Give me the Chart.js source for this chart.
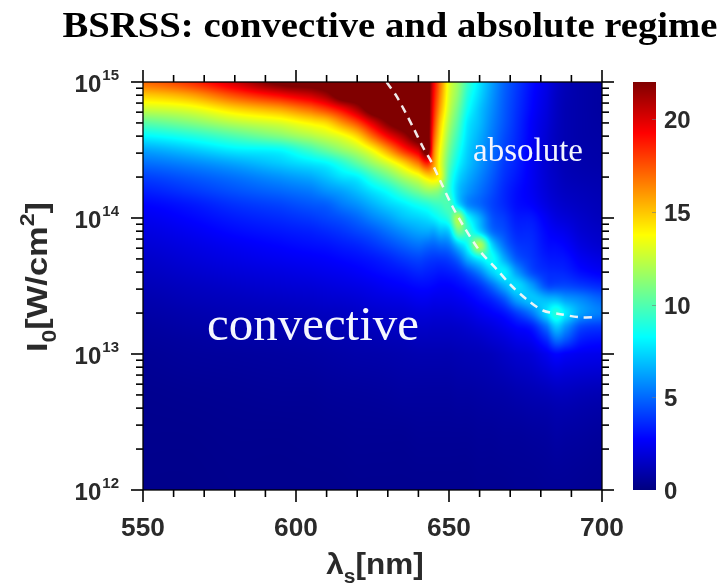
<!DOCTYPE html>
<html>
<head>
<meta charset="utf-8">
<title>BSRSS: convective and absolute regime</title>
<script src="https://cdn.jsdelivr.net/npm/chart.js@4.4.1/dist/chart.umd.min.js"></script>
<style>
  html, body { margin: 0; padding: 0; background: #fff; }
  #wrap { width: 723px; height: 587px; }
</style>
</head>
<body>
<div id="wrap"><canvas id="bsrssChart" width="723" height="587"></canvas></div>
<script>
// Wavelength columns of the gain map [nm]
const wavelengths = [550, 565, 580, 595, 605, 610, 615, 620, 625, 630, 635, 640, 643, 645, 647, 650, 653, 656, 660, 664, 668, 672, 677, 682, 685, 688, 693, 700];
// Intensity rows as log10(I0 [W/cm2]), top to bottom
const intensityExp = [15.0, 14.9, 14.8, 14.7, 14.6, 14.5, 14.4, 14.3, 14.2, 14.1, 14.0, 13.9, 13.8, 13.7, 13.6, 13.5, 13.4, 13.3, 13.2, 13.1, 13.0, 12.7, 12.4, 12.0];
// Gain, one list per wavelength (rows in intensityExp order)
const gain = [
  [17.0, 14.8, 12.6, 10.2, 8.1, 6.3, 5.1, 4.1, 3.4, 2.8, 2.4, 2.1, 1.85, 1.6, 1.4, 1.2, 1.0, 0.85, 0.7, 0.6, 0.5, 0.35, 0.3, 0.25],
  [18.2, 15.6, 13.1, 11.0, 8.8, 7.0, 5.6, 4.6, 3.9, 3.2, 2.8, 2.45, 2.15, 1.9, 1.65, 1.4, 1.2, 1.0, 0.85, 0.7, 0.6, 0.4, 0.3, 0.25],
  [20.3, 17.6, 14.6, 12.2, 9.9, 7.9, 6.3, 5.2, 4.5, 3.8, 3.3, 2.9, 2.5, 2.2, 1.9, 1.6, 1.35, 1.15, 0.95, 0.8, 0.65, 0.45, 0.35, 0.3],
  [22.5, 19.2, 15.7, 13.0, 11.0, 8.25, 7.1, 5.9, 5.0, 4.2, 3.65, 3.2, 2.8, 2.45, 2.1, 1.8, 1.5, 1.25, 1.05, 0.85, 0.7, 0.5, 0.35, 0.3],
  [22.8, 20.3, 17.0, 14.0, 12.0, 9.6, 7.7, 6.4, 5.4, 4.6, 3.95, 3.4, 3.0, 2.6, 2.25, 1.9, 1.6, 1.35, 1.1, 0.9, 0.75, 0.5, 0.38, 0.3],
  [23.0, 21.3, 18.0, 14.6, 12.6, 10.5, 8.1, 6.95, 5.9, 4.8, 4.2, 3.6, 3.1, 2.7, 2.35, 2.0, 1.7, 1.4, 1.15, 0.95, 0.8, 0.55, 0.4, 0.3],
  [23.0, 23.0, 19.3, 16.1, 13.3, 11.4, 9.0, 7.6, 6.3, 5.4, 4.5, 3.85, 3.3, 2.85, 2.45, 2.1, 1.75, 1.45, 1.2, 1.0, 0.85, 0.58, 0.42, 0.32],
  [23.0, 23.0, 21.0, 17.7, 14.6, 12.3, 10.2, 8.0, 6.9, 5.9, 4.95, 4.2, 3.5, 3.0, 2.6, 2.2, 1.85, 1.55, 1.3, 1.05, 0.9, 0.6, 0.45, 0.35],
  [23.0, 23.0, 23.0, 20.0, 17.0, 13.75, 11.5, 9.3, 7.7, 6.6, 5.6, 4.6, 3.85, 3.2, 2.8, 2.35, 2.0, 1.65, 1.35, 1.1, 0.92, 0.62, 0.45, 0.35],
  [23.0, 23.0, 23.0, 22.0, 19.3, 15.9, 12.8, 10.5, 8.5, 7.3, 6.2, 5.2, 4.3, 3.5, 3.0, 2.55, 2.1, 1.75, 1.45, 1.15, 0.95, 0.65, 0.45, 0.35],
  [23.0, 23.0, 23.0, 23.0, 21.1, 18.3, 14.5, 11.9, 9.7, 7.9, 6.9, 5.8, 4.8, 3.9, 3.2, 2.7, 2.2, 1.8, 1.5, 1.2, 1.0, 0.7, 0.45, 0.35],
  [23.0, 23.0, 23.0, 23.0, 23.0, 20.3, 16.6, 13.1, 10.8, 8.6, 7.3, 6.3, 5.2, 4.2, 3.5, 2.9, 2.4, 1.95, 1.6, 1.3, 1.05, 0.7, 0.5, 0.35],
  [23.0, 23.0, 23.0, 23.0, 23.0, 23.0, 18.5, 14.3, 11.5, 9.0, 7.6, 6.4, 5.0, 4.0, 3.4, 2.9, 2.4, 1.95, 1.6, 1.3, 1.05, 0.7, 0.5, 0.35],
  [19.5, 19.2, 18.8, 18.3, 17.6, 16.8, 16.0, 14.5, 11.5, 9.4, 8.0, 6.3, 4.9, 3.9, 3.3, 2.8, 2.3, 1.9, 1.55, 1.3, 1.05, 0.7, 0.5, 0.35],
  [16.8, 16.4, 15.8, 15.0, 14.4, 13.8, 13.4, 13.5, 11.0, 9.6, 8.5, 6.8, 5.1, 3.9, 3.2, 2.7, 2.3, 1.9, 1.55, 1.3, 1.05, 0.7, 0.5, 0.35],
  [13.2, 13.0, 12.6, 12.0, 11.4, 10.8, 10.2, 9.6, 9.2, 9.8, 9.3, 7.2, 5.4, 4.1, 3.3, 2.7, 2.3, 1.9, 1.55, 1.3, 1.05, 0.7, 0.5, 0.35],
  [11.5, 11.2, 10.6, 10.0, 9.4, 8.8, 8.2, 7.5, 7.0, 7.6, 12.0, 10.5, 7.0, 4.9, 3.6, 2.9, 2.4, 2.0, 1.6, 1.35, 1.1, 0.75, 0.5, 0.35],
  [9.5, 9.0, 8.5, 7.9, 7.6, 7.3, 7.0, 6.5, 6.0, 5.8, 8.5, 9.5, 8.5, 6.5, 4.3, 3.2, 2.6, 2.1, 1.7, 1.4, 1.15, 0.75, 0.5, 0.35],
  [7.7, 7.4, 7.0, 6.8, 6.5, 6.2, 6.0, 5.6, 5.2, 5.0, 6.5, 7.5, 12.0, 8.0, 5.5, 3.8, 3.0, 2.4, 1.9, 1.5, 1.2, 0.8, 0.55, 0.4],
  [6.2, 6.0, 5.8, 5.6, 5.4, 5.2, 5.0, 4.7, 4.4, 4.2, 4.6, 5.2, 7.5, 8.5, 7.2, 5.0, 3.5, 2.7, 2.1, 1.7, 1.3, 0.85, 0.55, 0.4],
  [4.9, 4.8, 4.7, 4.6, 4.4, 4.2, 4.0, 3.8, 3.6, 3.6, 4.0, 4.4, 5.2, 6.5, 8.0, 6.5, 4.5, 3.1, 2.4, 1.9, 1.5, 0.9, 0.6, 0.4],
  [4.0, 3.9, 3.8, 3.7, 3.6, 3.5, 3.4, 3.2, 3.0, 3.0, 3.3, 3.6, 4.0, 4.7, 6.2, 7.5, 6.2, 4.0, 2.8, 2.2, 1.7, 1.0, 0.6, 0.45],
  [3.0, 2.9, 2.8, 2.65, 2.6, 2.5, 2.5, 2.5, 2.5, 2.7, 3.2, 3.5, 3.7, 3.9, 4.4, 6.2, 7.0, 5.3, 3.3, 2.5, 1.9, 1.1, 0.65, 0.45],
  [2.2, 2.1, 2.0, 1.9, 1.8, 1.75, 1.75, 1.8, 1.9, 2.1, 2.5, 2.8, 3.0, 3.3, 3.7, 4.4, 6.8, 7.5, 5.2, 3.6, 2.4, 1.2, 0.7, 0.5],
  [1.6, 1.5, 1.45, 1.4, 1.35, 1.35, 1.4, 1.5, 1.6, 1.8, 2.1, 2.5, 2.9, 3.2, 3.6, 4.3, 6.8, 9.0, 7.0, 5.0, 2.8, 1.3, 0.8, 0.5],
  [1.2, 1.15, 1.1, 1.1, 1.1, 1.1, 1.15, 1.25, 1.4, 1.6, 1.9, 2.3, 2.7, 3.1, 3.5, 4.3, 6.2, 7.8, 6.0, 4.5, 2.6, 1.3, 0.75, 0.5],
  [0.9, 0.9, 0.9, 0.9, 0.9, 0.95, 1.0, 1.1, 1.25, 1.4, 1.6, 1.8, 2.1, 2.5, 3.0, 4.0, 5.7, 6.2, 4.3, 3.3, 2.4, 1.2, 0.7, 0.45],
  [0.7, 0.7, 0.7, 0.75, 0.8, 0.85, 0.9, 1.0, 1.1, 1.2, 1.3, 1.5, 1.7, 2.1, 2.6, 3.6, 4.9, 5.4, 3.9, 3.0, 2.3, 1.1, 0.6, 0.4]
];

// Dashed convective / absolute boundary
const boundaryNm = [629.6, 633, 638.2, 641.5, 644.3, 647, 651, 654.5, 660, 665.7, 670.5, 675.5, 680.7, 687, 693, 698.5];
const boundaryExp = [15.0, 14.89, 14.67, 14.52, 14.41, 14.28, 14.09, 13.95, 13.76, 13.62, 13.5, 13.4, 13.32, 13.29, 13.27, 13.27];

// Axes
const xTicks = [550, 600, 650, 700];
const xMinorStep = 10;
const yTickExp = [12, 13, 14, 15];
const gainTicks = [0, 5, 10, 15, 20];
const gainMax = 22;

const labelFont = '"Liberation Sans", Arial, sans-serif';
const serifFont = '"Liberation Serif", "Times New Roman", serif';
const labelColor = '#2a2a2a';

// jet colour map
function jet(v) {
    const t = Math.min(Math.max(v / gainMax, 0), 1);
    const ch = c => Math.round(255 * Math.min(Math.max(1.5 - Math.abs(4 * t - c), 0), 1));
    return [ch(3), ch(2), ch(1)];
}

// find cell index + fraction in an ascending or descending list
function locate(list, v) {
    const n = list.length;
    for (let i = 0; i < n - 1; i++) {
        const a = list[i], b = list[i + 1];
        if ((v - a) * (v - b) <= 0) return { i: i, f: (v - a) / (b - a) };
    }
    return Math.abs(v - list[0]) < Math.abs(v - list[n - 1]) ? { i: 0, f: 0 } : { i: n - 2, f: 1 };
}

// Catmull-Rom step
function cr(p0, p1, p2, p3, t) {
    return p1 + 0.5 * t * (p2 - p0 + t * (2 * p0 - 5 * p1 + 4 * p2 - p3 + t * (3 * (p1 - p2) + p3 - p0)));
}

function sample(c, r) {
    const nc = wavelengths.length, nr = intensityExp.length;
    const ci = k => Math.min(Math.max(k, 0), nc - 1);
    const ri = k => Math.min(Math.max(k, 0), nr - 1);
    const rowVals = [];
    for (let k = -1; k <= 2; k++) {
        const rr = ri(r.i + k);
        rowVals.push(cr(gain[ci(c.i - 1)][rr], gain[c.i][rr], gain[c.i + 1][rr], gain[ci(c.i + 2)][rr], c.f));
    }
    let v = cr(rowVals[0], rowVals[1], rowVals[2], rowVals[3], r.f);
    const corners = [gain[c.i][r.i], gain[c.i + 1][r.i], gain[c.i][r.i + 1], gain[c.i + 1][r.i + 1]];
    return Math.min(Math.max(v, Math.min(...corners)), Math.max(...corners));
}

// Heat map, drawn under the dashed line
const gainMapPlugin = {
    id: 'gainMap',
    beforeDatasetsDraw(chart) {
        const { ctx, chartArea: a, scales } = chart;
        const w = Math.round(a.right - a.left);
        const h = Math.round(a.bottom - a.top);
        const cols = [], rows = [];
        for (let px = 0; px < w; px++) {
            cols.push(locate(wavelengths, scales.x.getValueForPixel(a.left + px + 0.5)));
        }
        for (let py = 0; py < h; py++) {
            rows.push(locate(intensityExp, Math.log10(scales.y.getValueForPixel(a.top + py + 0.5))));
        }
        const off = document.createElement('canvas');
        off.width = w;
        off.height = h;
        const octx = off.getContext('2d');
        const img = octx.createImageData(w, h);
        for (let py = 0; py < h; py++) {
            for (let px = 0; px < w; px++) {
                const rgb = jet(sample(cols[px], rows[py]));
                const k = (py * w + px) * 4;
                img.data[k] = rgb[0];
                img.data[k + 1] = rgb[1];
                img.data[k + 2] = rgb[2];
                img.data[k + 3] = 255;
            }
        }
        octx.putImageData(img, 0, 0);
        ctx.drawImage(off, a.left, a.top);
    }
};

function drawText(ctx, str, x, y, font, color, align, sx) {
    ctx.save();
    ctx.font = font;
    ctx.fillStyle = color;
    ctx.textAlign = align;
    ctx.textBaseline = 'alphabetic';
    ctx.translate(x, y);
    ctx.scale(sx || 1, 1);
    ctx.fillText(str, 0, 0);
    ctx.restore();
}

// text made of parts with normal / sub / sup offsets, centred on x
function drawRich(ctx, parts, x, y, size, color) {
    const fonts = { n: 'bold ' + size + 'px ' + labelFont, s: 'bold ' + Math.round(size * 0.65) + 'px ' + labelFont };
    let total = 0;
    parts.forEach(p => { ctx.font = p.k === 'n' ? fonts.n : fonts.s; p.w = ctx.measureText(p.t).width; total += p.w; });
    let cx = x - total / 2;
    ctx.fillStyle = color;
    ctx.textAlign = 'left';
    ctx.textBaseline = 'alphabetic';
    parts.forEach(p => {
        ctx.font = p.k === 'n' ? fonts.n : fonts.s;
        const dy = p.k === 'sub' ? size * 0.3 : (p.k === 'sup' ? -size * 0.45 : 0);
        ctx.fillText(p.t, cx, y + dy);
        cx += p.w;
    });
}

const framePlugin = {
    id: 'frame',
    afterDraw(chart) {
        const { ctx, chartArea: a, scales } = chart;
        const x = scales.x, y = scales.y, cb = scales.gain;
        ctx.save();

        // colour bar
        const barL = a.right + 31, barW = 23;
        const barT = Math.round(cb.getPixelForValue(gainMax)), barB = Math.round(cb.getPixelForValue(0));
        for (let py = barT; py < barB; py++) {
            const rgb = jet(cb.getValueForPixel(py + 0.5));
            ctx.fillStyle = 'rgb(' + rgb.join(',') + ')';
            ctx.fillRect(barL, py, barW, 1);
        }
        ctx.strokeStyle = 'rgba(120,120,120,0.6)';
        ctx.lineWidth = 1;
        gainTicks.forEach(v => {
            if (v === 0) return;
            const py = Math.round(cb.getPixelForValue(v)) + 0.5;
            ctx.beginPath();
            ctx.moveTo(barL + barW - 4, py);
            ctx.lineTo(barL + barW, py);
            ctx.stroke();
        });
        gainTicks.forEach(v => {
            drawText(ctx, String(v), barL + barW + 8, cb.getPixelForValue(v) + 9, 'bold 24px ' + labelFont, labelColor, 'left', 1);
        });

        // plot frame and outward ticks
        ctx.strokeStyle = '#000';
        ctx.lineWidth = 1.3;
        ctx.strokeRect(a.left, a.top, a.right - a.left, a.bottom - a.top);
        ctx.lineWidth = 1.6;
        const seg = (x1, y1, x2, y2) => { ctx.beginPath(); ctx.moveTo(x1, y1); ctx.lineTo(x2, y2); ctx.stroke(); };
        for (let v = xTicks[0]; v <= xTicks[xTicks.length - 1]; v += xMinorStep) {
            const px = x.getPixelForValue(v);
            const len = xTicks.includes(v) ? 12 : 7;
            seg(px, a.bottom, px, a.bottom + len);
            seg(px, a.top, px, a.top - len);
        }
        for (let e = yTickExp[0]; e <= yTickExp[yTickExp.length - 1]; e++) {
            for (let m = 1; m <= 9; m++) {
                if (e === yTickExp[yTickExp.length - 1] && m > 1) break;
                const py = y.getPixelForValue(m * Math.pow(10, e));
                const len = m === 1 ? 12 : 7;
                seg(a.left, py, a.left - len, py);
                seg(a.right, py, a.right + len, py);
            }
        }

        // tick labels
        xTicks.forEach(v => {
            drawText(ctx, String(v), x.getPixelForValue(v), 536, 'bold 25px ' + labelFont, labelColor, 'center', 1.05);
        });
        yTickExp.forEach(e => {
            const py = y.getPixelForValue(Math.pow(10, e));
            ctx.font = 'bold 15px ' + labelFont;
            const we = ctx.measureText(String(e)).width;
            const right = a.left - 24;
            drawText(ctx, String(e), right, py - 2, 'bold 15px ' + labelFont, labelColor, 'right', 1);
            drawText(ctx, '10', right - we - 1, py + 10, 'bold 24px ' + labelFont, labelColor, 'right', 1);
        });

        // axis titles
        ctx.save();
        ctx.translate(375, 574);
        ctx.scale(1.05, 1);
        drawRich(ctx, [{ t: 'λ', k: 'n' }, { t: 's', k: 'sub' }, { t: '[nm]', k: 'n' }], 0, 0, 30, labelColor);
        ctx.restore();
        ctx.save();
        ctx.translate(47, 277);
        ctx.rotate(-Math.PI / 2);
        ctx.scale(1.15, 1);
        drawRich(ctx, [{ t: 'I', k: 'n' }, { t: '0', k: 'sub' }, { t: '[W/cm', k: 'n' }, { t: '2', k: 'sup' }, { t: ']', k: 'n' }], 0, 0, 30, labelColor);
        ctx.restore();

        // title and region labels
        drawText(ctx, 'BSRSS: convective and absolute regime', 390, 37, 'bold 36px ' + serifFont, '#000', 'center', 1.075);
        drawText(ctx, 'absolute', 528, 161, '33px ' + serifFont, '#f2f4ff', 'center', 1);
        drawText(ctx, 'convective', 313, 340, '48px ' + serifFont, '#f4f6ff', 'center', 1.02);

        ctx.restore();
    }
};

const ctx = document.getElementById('bsrssChart').getContext('2d');
const bsrssChart = new Chart(ctx, {
    type: 'line',
    data: {
        datasets: [{
            label: 'boundary',
            data: boundaryNm.map((nm, i) => ({ x: nm, y: Math.pow(10, boundaryExp[i]) })),
            borderColor: 'rgba(245,245,245,0.95)',
            borderWidth: 2.5,
            borderDash: [8, 6],
            tension: 0.3,
            pointRadius: 0,
            fill: false
        }]
    },
    options: {
        responsive: false,
        animation: false,
        devicePixelRatio: 1,
        layout: { padding: { top: 82, left: 0, right: 0, bottom: 0 } },
        plugins: {
            legend: { display: false },
            tooltip: { enabled: false },
            title: { display: false }
        },
        scales: {
            x: {
                type: 'linear', min: 550, max: 700,
                grid: { display: false }, border: { display: false }, ticks: { display: false },
                afterFit: s => { s.height = 97; }
            },
            y: {
                type: 'logarithmic', min: 1e12, max: 1e15, position: 'left',
                grid: { display: false }, border: { display: false }, ticks: { display: false },
                afterFit: s => { s.width = 143; }
            },
            gain: {
                type: 'linear', axis: 'y', position: 'right', min: 0, max: gainMax,
                grid: { display: false }, border: { display: false }, ticks: { display: false },
                afterFit: s => { s.width = 121; }
            }
        }
    },
    plugins: [gainMapPlugin, framePlugin]
});
</script>
</body>
</html>
